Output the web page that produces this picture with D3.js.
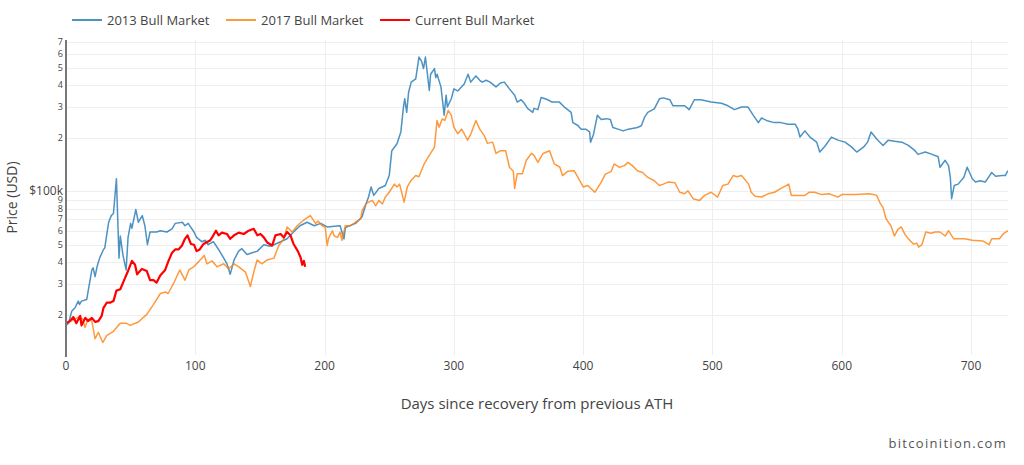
<!DOCTYPE html>
<html>
<head>
<meta charset="utf-8">
<script src="https://cdn.jsdelivr.net/npm/d3@7"></script>
<style>
  html, body { margin: 0; padding: 0; background: #fff; }
  svg { display: block; font-family: "Open Sans", "DejaVu Sans", sans-serif; }
</style>
</head>
<body>
<svg id="chart" width="1024" height="465"></svg>
<script>
// ---------- DATA (prices in thousands of USD) ----------
const seriesNames = ["2013 Bull Market", "2017 Bull Market", "Current Bull Market"];

const days2013 = [0,2,4.4,7,9.5,10.5,12,16,17,20,21,22.5,24,26,29,30,33,35,36.7,39,41,42,44,46.5,48,50,51,54,56,59,61,63,65,70,73,78,82,84.5,90,92,94.5,99,101,105,107.7,110,114,118,122,124.5,127,130,133.5,136,140,144,148,153,158,162,166,171,176,181,186.5,192,197,202,212,215,216,217,224,229,232,234,236,238,242,247,250,252,256,259,261,262,263.5,265,267,270.5,273,275,276.5,278,281,282,285,286,287,290,292.5,294,295,298,300,303,308,311,313,317,320,322,325,328,332.6,336,339,343,347,349,352,354.5,357,361,362,365,367.5,370,372.6,376,381.6,385.5,390.7,392,396,398.4,402,405,405.7,408,411,414,418,421,423,427,431,435,442,445,447.5,450,455,459,462,467,469.5,475,478.5,482,486,491,499,507,512,517,522.5,527.5,531.5,535.5,538,543,548,553,558.5,564,566,567.7,571.5,575.4,580.6,583,587,592,597,602.6,607.7,611.6,616.8,620,622.7,627,632,636,641,646.5,651.5,656.7,659,664.6,670,674.6,676,680,682.6,684,685,687,690,694.4,697,701,703.5,707,711,716,719,724,726.5,728.5];
const price2013 = [17.5,18,21,22,24,23,24,24.5,27,36,37,33,37.5,42,47,48,67,73,75,118,42,56,44,36,55,66,62,79,67,73,64,50,59,59,60,59,61.5,66,67,64,66,59,55,52,53,50,52,47,42,39,34,41,46,47.5,44,45,46,50,49,50.5,52,54,59,64,67,64,66,63,64,54,62,63,66,72,85,93,106,95,104,108,123,170,186,217,300,334,280,364,415,433,575,545,495,575,372,460,495,440,460,390,270,350,300,334,380,370,405,460,415,450,425,415,425,415,390,410,415,380,350,320,330,315,295,280,295,290,340,335,330,320,320,300,280,245,236,225,225,217,190,210,270,255,258,255,230,225,220,225,230,235,263,280,293,334,338,330,305,305,305,290,330,330,320,315,305,290,300,300,270,245,260,250,245,245,240,240,226,203,220,203,190,167,180,203,195,190,178,167,178,190,217,198,182,195,192,190,182,170,162,167,162,157,137,150,140,120,91,108,110,120,137,118,113,115,113,128,122,123,123,131];

const days2017 = [0,4,9.5,13,14.7,17,20,22.5,25,28.4,31.5,36.7,42,46.5,49.6,56,62.5,67.7,73,77,79,83,88,92,95,98.7,102.5,107,109,113,116.8,122,125.8,130,133.6,138.8,142.6,145,147.8,151.5,155.6,160.8,164.6,168.5,171,175,178.8,184,189,193,195,198,200.5,202,203,206,207.5,210,212,213.5,216,220,224,228,229,232,234,237,239.5,242,244.7,247,250,254,256,258,261.5,264,266.7,270.5,273,277,281,285,287,288.6,291,293,295.6,298,300,303,306,308,310.6,313,317,320,323.5,326,330,332.6,336,340,343,346,347,349,353,356,360,362,365,369,374,377.7,382,384,388,393,396,400,403.6,406,409,411,414,417,421.7,424,428,432,434.6,438,442,446,450,455,459,462,465.6,471,474.7,478.5,481,485,490,494,499,504,508,512,516,519,522.5,528,530,533,538,543,548,553,557,559,561,567,571.5,575,579,584.5,590,593.6,597,600,610.6,620.7,624.6,627,630,632,634,635.5,638,640.8,643.4,646,649,651.5,655.4,658,659.5,662,665,669,672.4,676,680,682.6,686.6,695,701,709,714,716,722,725.4,728.5];
const price2017 = [18,18.5,19.5,19,17,19,18.5,14.7,16,14,15.3,16.2,18,18,17.5,18.3,20.2,23,26.5,27,26.5,30,36,31.5,36,37.5,40,43.5,39,40.5,37.5,39,36.5,39,37.5,35,29,34.5,41,39,41,42,49.5,54,63,59,64,69,73,66,68,64,63,49.5,54,60,56,55,59,53,64,64,67,70,78,85,87,89,83,89,85,93,99,110,106,110,87,106,115,123,121,143,160,178,252,231,257,252,287,270,231,212,225,212,195,210,252,225,207,187,190,164,170,170,137,130,104,126,126,150,164,160,146,164,170,143,137,123,130,131,120,106,108,104,99,104,113,125,130,143,137,140,146,140,131,128,120,115,108,110,113,112,99,97,101,91,89,95,99,93,108,110,123,121,123,110,99,94,93,97,99,104,108,110,95,95,95,99,99,96,97,95,93,96,96,97,96,95,85,81,71,68,64,56,61,63,57,54,50.5,51,48.5,50,59,58,59,59,56,60,54,54,53,52.5,50,54,54,58,60];

const daysCurrent = [0,3,5.7,8,11,12,15,17,20,22.5,25,27.6,29,31.5,34,36.7,39,42,45.7,48.3,51,53.4,55,58.7,62.5,65,67.7,70,72.9,76.7,79.3,82,84.5,87,89.7,92,94,96.6,99,101,103.4,106.4,108.5,111.6,114,116,118,120.6,124.5,127,130,133.6,137.5,141.3,145.2,148,150.4,153,155.6,159.5,162,166,168.5,171,173.6,176,179.3,181.4,182.7,184,185];
const priceCurrent = [18,18.5,19.5,18,19.8,17.5,19.3,18.5,19.3,18.3,18.5,19.8,22,23.5,23.5,24,27.5,28,32.5,36,40.5,38.5,34,36.5,35.5,31.5,31.5,30.5,33.5,36,40.5,45,47,47,49.5,54,56.5,50.5,50,46,47,50.5,51.5,53,56.5,60,56.5,58.5,57.5,54,56.5,58.5,57.5,60,61.5,56.5,57.5,55,51.5,49.5,56.5,57.5,55,59,56.5,50.5,46,42.5,38.5,40.5,37.5];

const xTicks = [0,100,200,300,400,500,600,700];
const yTicks = [20,30,40,50,60,70,80,90,100,200,300,400,500,600,700];

// ---------- LAYOUT ----------
const svg = d3.select("#chart");
const pLeft = 66, pRight = 1008, pTop = 40, pBottom = 355;

const x = d3.scaleLinear().domain([0, 728.6]).range([pLeft, pRight]);
const y = d3.scaleLog().domain([11.9, 718]).range([pBottom, pTop]);

const gridColor = "#eeeeee";
const textColor = "#444";

// horizontal grid
svg.append("g").selectAll("line").data(yTicks).join("line")
  .attr("x1", pLeft).attr("x2", pRight)
  .attr("y1", d => Math.round(y(d)) + 0.5).attr("y2", d => Math.round(y(d)) + 0.5)
  .attr("stroke", gridColor).attr("stroke-width", 1);

// vertical grid
svg.append("g").selectAll("line").data(xTicks.filter(d => d > 0)).join("line")
  .attr("x1", d => Math.round(x(d)) + 0.5).attr("x2", d => Math.round(x(d)) + 0.5)
  .attr("y1", pTop).attr("y2", pBottom)
  .attr("stroke", gridColor).attr("stroke-width", 1);

// y tick labels
svg.append("g").selectAll("text").data(yTicks).join("text")
  .attr("x", 63)
  .attr("y", d => y(d) - (d === 100 ? 1 : 0))
  .attr("dy", "0.35em")
  .attr("text-anchor", "end")
  .attr("fill", textColor)
  .attr("font-size", d => d === 100 ? 12 : 9)
  .text(d => d === 100 ? "$100k" : String(d < 100 ? d / 10 : d / 100));

// x tick labels
svg.append("g").selectAll("text").data(xTicks).join("text")
  .attr("x", d => x(d))
  .attr("y", 370)
  .attr("text-anchor", "middle")
  .attr("fill", textColor)
  .attr("font-size", 12)
  .text(d => d);

// series
const series = [
  { name: seriesNames[0], days: days2013, vals: price2013, color: "#1f77b4", width: 1.5, opacity: 0.8 },
  { name: seriesNames[1], days: days2017, vals: price2017, color: "#ff7f0e", width: 1.5, opacity: 0.8 },
  { name: seriesNames[2], days: daysCurrent, vals: priceCurrent, color: "#ff0000", width: 2.2, opacity: 1 }
];

const line = d3.line().x(d => x(d[0])).y(d => y(d[1]));

svg.append("defs").append("clipPath").attr("id", "plotclip")
  .append("rect").attr("x", pLeft).attr("y", pTop - 2).attr("width", pRight - pLeft).attr("height", pBottom - pTop + 4);

const plot = svg.append("g").attr("clip-path", "url(#plotclip)");
series.forEach(s => {
  const pts = s.days.map((d, i) => [d, s.vals[i]]);
  plot.append("path")
    .attr("d", line(pts))
    .attr("fill", "none")
    .attr("stroke", s.color)
    .attr("stroke-opacity", s.opacity)
    .attr("stroke-width", s.width)
    .attr("stroke-linejoin", "round");
});

// zero line at x = 0
svg.append("line")
  .attr("x1", pLeft).attr("x2", pLeft)
  .attr("y1", pTop).attr("y2", pBottom + 2)
  .attr("stroke", "#777").attr("stroke-width", 2);

// axis titles
svg.append("text")
  .attr("x", 537).attr("y", 409)
  .attr("text-anchor", "middle").attr("fill", textColor).attr("font-size", 15)
  .text("Days since recovery from previous ATH");

svg.append("text")
  .attr("transform", "translate(17," + ((pTop + pBottom) / 2) + ") rotate(-90)")
  .attr("text-anchor", "middle").attr("fill", textColor).attr("font-size", 14)
  .text("Price (USD)");

// legend
const legendX = [72, 226, 380];
const lg = svg.append("g");
series.forEach((s, i) => {
  lg.append("line")
    .attr("x1", legendX[i]).attr("x2", legendX[i] + 30)
    .attr("y1", 20).attr("y2", 20)
    .attr("stroke", s.color).attr("stroke-opacity", s.opacity)
    .attr("stroke-width", 2);
  lg.append("text")
    .attr("x", legendX[i] + 35).attr("y", 20).attr("dy", "0.35em")
    .attr("fill", textColor).attr("font-size", 13)
    .text(s.name);
});

// watermark
svg.append("text")
  .attr("x", 1007).attr("y", 448)
  .attr("text-anchor", "end").attr("fill", "#555").attr("font-size", 13)
  .attr("letter-spacing", "1.3px")
  .text("bitcoinition.com");
</script>
</body>
</html>
